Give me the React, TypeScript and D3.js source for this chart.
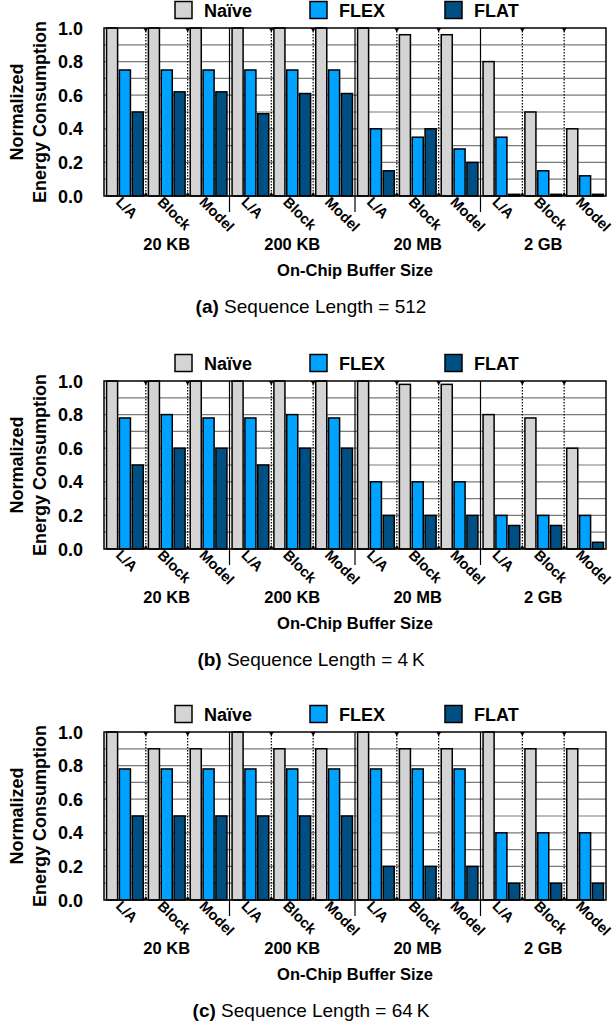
import React from "react";
import * as d3 from "d3";

const groups = ["20 KB", "200 KB", "20 MB", "2 GB"];
const subs = ["L/A", "Block", "Model"];
const series = ["Naïve", "FLEX", "FLAT"];
const colors = ["#d4d4d4", "#00a2ff", "#004f82"];
const yTicks = [0, 0.2, 0.4, 0.6, 0.8, 1.0];
const gridVals = [0.1, 0.2, 0.3, 0.4, 0.5, 0.6, 0.7, 0.8, 0.9];

// values per group -> sub -> [Naive, FLEX, FLAT]
const seq512 = [
  [[1.0, 0.75, 0.5], [1.0, 0.75, 0.62], [1.0, 0.75, 0.62]],
  [[1.0, 0.75, 0.49], [1.0, 0.75, 0.61], [1.0, 0.75, 0.61]],
  [[1.0, 0.4, 0.15], [0.96, 0.35, 0.4], [0.96, 0.28, 0.2]],
  [[0.8, 0.35, 0.01], [0.5, 0.15, 0.01], [0.4, 0.12, 0.01]],
];
const seq4k = [
  [[1.0, 0.78, 0.5], [1.0, 0.8, 0.6], [1.0, 0.78, 0.6]],
  [[1.0, 0.78, 0.5], [1.0, 0.8, 0.6], [1.0, 0.78, 0.6]],
  [[1.0, 0.4, 0.2], [0.98, 0.4, 0.2], [0.98, 0.4, 0.2]],
  [[0.8, 0.2, 0.14], [0.78, 0.2, 0.14], [0.6, 0.2, 0.04]],
];
const seq64k = [
  [[1.0, 0.78, 0.5], [0.9, 0.78, 0.5], [0.9, 0.78, 0.5]],
  [[1.0, 0.78, 0.5], [0.9, 0.78, 0.5], [0.9, 0.78, 0.5]],
  [[1.0, 0.78, 0.2], [0.9, 0.78, 0.2], [0.9, 0.78, 0.2]],
  [[1.0, 0.4, 0.1], [0.9, 0.4, 0.1], [0.9, 0.4, 0.1]],
];
const panelLetters = ["a", "b", "c"];
const panelLengths = ["512", "4\u2009K", "64\u2009K"];
const panelData = [seq512, seq4k, seq64k];

const FONT = "'Liberation Sans', Arial, Helvetica, sans-serif";

function Panel({ data, letter, len, dy }: { data: number[][][]; letter: string; len: string; dy: number }) {
  const x0 = 104, x1 = 606;
  const yTop = 28 + dy, yBot = 196 + dy;
  const y = d3.scaleLinear().domain([0, 1]).range([yBot, yTop]);
  const gx = d3.scaleBand<string>().domain(groups).range([x0, x1]);
  const sx = d3.scaleBand<string>().domain(subs).range([0, gx.bandwidth()]);
  const bx = d3.scaleBand<string>().domain(series).range([0, sx.bandwidth()]).paddingInner(0.14).paddingOuter(0.2);
  const legendX = [175, 310, 445];
  return (
    <g>
      {/* legend */}
      {series.map((s, i) => (
        <g key={s}>
          <rect x={legendX[i]} y={1.5 + dy} width={17} height={17} fill={colors[i]} stroke="#000" strokeWidth={1.5} />
          <text x={legendX[i] + 29} y={16.5 + dy} fontSize={18} fontWeight="bold" fontFamily={FONT}>{s}</text>
        </g>
      ))}
      {/* grid */}
      {gridVals.map((v) => (
        <line key={v} x1={x0} x2={x1} y1={y(v)} y2={y(v)} stroke="#7a7a7a" strokeWidth={1.2} />
      ))}
      {/* sub dividers */}
      {groups.map((g) =>
        [1, 2].map((k) => {
          const xx = (gx(g) as number) + k * sx.step();
          return (
            <g key={g + k}>
              <line x1={xx} x2={xx} y1={yTop} y2={yBot} stroke="#000" strokeWidth={1.2} strokeDasharray="1.5,1.5" />
              <path d={`M${xx - 2.5},${yTop} L${xx + 2.5},${yTop} L${xx},${yTop + 4} Z`} fill="#000" />
              <path d={`M${xx - 2.5},${yBot} L${xx + 2.5},${yBot} L${xx},${yBot - 4} Z`} fill="#000" />
            </g>
          );
        })
      )}
      {/* bars */}
      {groups.map((g, gi) =>
        subs.map((s, si) =>
          series.map((se, ki) => {
            const v = data[gi][si][ki];
            const bxPos = (gx(g) as number) + (sx(s) as number) + (bx(se) as number);
            return (
              <rect
                key={g + s + se}
                x={bxPos}
                y={y(v)}
                width={bx.bandwidth()}
                height={yBot - y(v)}
                fill={colors[ki]}
                stroke="#000"
                strokeWidth={1.5}
              />
            );
          })
        )
      )}
      {/* group dividers */}
      {groups.slice(1).map((g) => (
        <line key={g} x1={gx(g) as number} x2={gx(g) as number} y1={yTop} y2={yBot + 16} stroke="#000" strokeWidth={1.2} />
      ))}
      {/* frame */}
      <rect x={x0} y={yTop} width={x1 - x0} height={yBot - yTop} fill="none" stroke="#000" strokeWidth={1.5} />
      {/* y ticks */}
      {yTicks.map((v) => (
        <text key={v} x={83} y={y(v) + 6.5} textAnchor="end" fontSize={18} fontWeight="bold" fontFamily={FONT}>
          {v.toFixed(1)}
        </text>
      ))}
      <text transform={`translate(23,${112 + dy}) rotate(-90)`} textAnchor="middle" fontSize={18} fontWeight="bold" fontFamily={FONT}>
        Normalized
      </text>
      <text transform={`translate(46,${112 + dy}) rotate(-90)`} textAnchor="middle" fontSize={18} fontWeight="bold" fontFamily={FONT}>
        Energy Consumption
      </text>
      {/* sub labels */}
      {groups.map((g) =>
        subs.map((s) => {
          const cx = (gx(g) as number) + (sx(s) as number) + sx.bandwidth() / 2;
          return (
            <text key={g + s} transform={`translate(${cx - 10},${yBot + 7}) rotate(45)`} fontSize={14.5} fontWeight="bold" fontFamily={FONT}>
              {s}
            </text>
          );
        })
      )}
      {groups.map((g) => (
        <text key={g} x={(gx(g) as number) + gx.bandwidth() / 2} y={yBot + 54} textAnchor="middle" fontSize={16.5} fontWeight="bold" fontFamily={FONT}>
          {g}
        </text>
      ))}
      <text x={355} y={yBot + 80} textAnchor="middle" fontSize={16.5} fontWeight="bold" fontFamily={FONT}>
        On-Chip Buffer Size
      </text>
      <text x={311} y={yBot + 117} textAnchor="middle" fontSize={19} fontFamily={FONT}>
        <tspan fontWeight="bold">({letter})</tspan>
        <tspan> Sequence Length = {len}</tspan>
      </text>
    </g>
  );
}

export default function App() {
  const offsets = [0, 353, 704];
  return (
    <svg width={616} height={1024} style={{ position: "absolute", left: 0, top: 0, background: "#fff" }}>
      <rect width={616} height={1024} fill="#fff" />
      {panelData.map((d, i) => (
        <Panel key={i} data={d} letter={panelLetters[i]} len={panelLengths[i]} dy={offsets[i]} />
      ))}
    </svg>
  );
}
